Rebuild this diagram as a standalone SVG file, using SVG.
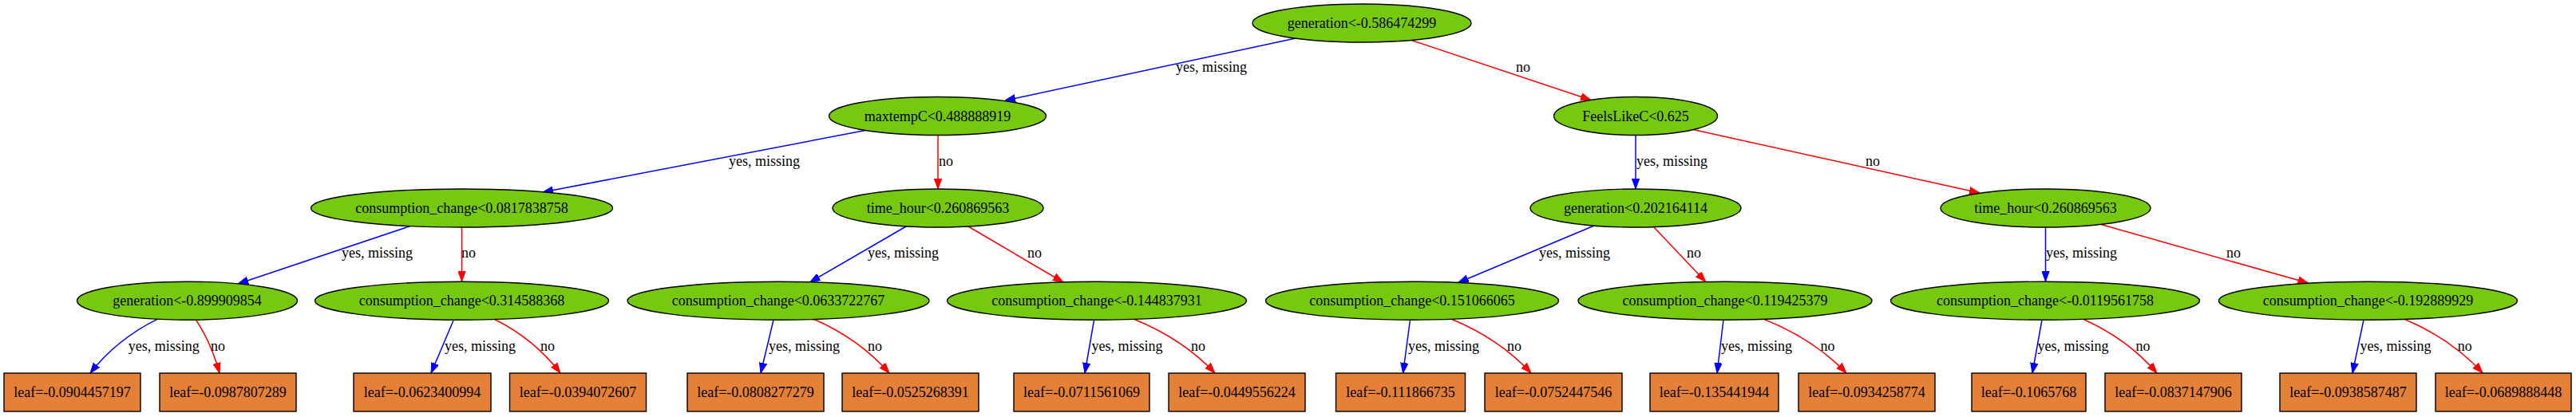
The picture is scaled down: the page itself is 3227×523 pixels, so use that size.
<svg xmlns="http://www.w3.org/2000/svg" width="3227" height="523" viewBox="0 0 3227 523">
<style>
.cond ellipse{fill:#77c90f;stroke:#000;stroke-width:1.4}
.leaf rect{fill:#e48038;stroke:#000;stroke-width:1.4}
text{font-family:"Liberation Serif","Times New Roman",serif;font-size:18px;fill:#000}
.cond text,.leaf text{text-anchor:middle}
.y{fill:none;stroke:#0000ff;stroke-width:1.5;marker-end:url(#ab)}
.n{fill:none;stroke:#ff0000;stroke-width:1.5;marker-end:url(#ar)}
</style>
<defs>
<marker id="ab" viewBox="0 0 13 10" refX="13" refY="5" markerWidth="13" markerHeight="10" markerUnits="userSpaceOnUse" orient="auto"><path d="M0,0.3 L13,5 L0,9.7 z" fill="#0000ff" stroke="#0000ff" stroke-width="1"/></marker>
<marker id="ar" viewBox="0 0 13 10" refX="13" refY="5" markerWidth="13" markerHeight="10" markerUnits="userSpaceOnUse" orient="auto"><path d="M0,0.3 L13,5 L0,9.7 z" fill="#ff0000" stroke="#ff0000" stroke-width="1"/></marker>
</defs>
<rect width="3227" height="523" fill="#fff"/>
<g id="edges">
<path class="y" d="M1623,48 L1259,126"/>
<path class="n" d="M1768,50.5 L1993,125.5"/>
<path class="y" d="M1084,163.5 L680,241"/>
<path class="n" d="M1175,169.5 L1175,237"/>
<path class="y" d="M2049,169.5 L2049,237"/>
<path class="n" d="M2121,162.5 L2480,242"/>
<path class="y" d="M514,283.5 L298,356"/>
<path class="n" d="M578.5,285 L578.5,353"/>
<path class="y" d="M1135,284 L1014.5,354"/>
<path class="n" d="M1213,284 L1332,354"/>
<path class="y" d="M1997,283 L1826.7,354.5"/>
<path class="n" d="M2071.5,284.5 L2136.8,353.5"/>
<path class="y" d="M2562.5,285 L2562.5,353"/>
<path class="n" d="M2632,281.5 L2891.5,355"/>
<path class="y" d="M197,400.3 C163.4,417 134,441 113,468"/>
<path class="n" d="M245,400.5 C257,418 267.5,441 275,468"/>
<path class="y" d="M568.4,401 L540,468"/>
<path class="n" d="M619.7,400.5 C652.6,417 681.4,441 702,468"/>
<path class="y" d="M969,401 L953,468"/>
<path class="n" d="M1020,400.5 C1057.6,417 1090.5,441 1114,468"/>
<path class="y" d="M1370.6,401 L1359,468"/>
<path class="n" d="M1421,400.5 C1461.4,417 1496.75,441 1522,468"/>
<path class="y" d="M1766.5,401 L1757.6,468"/>
<path class="n" d="M1819,400.5 C1858.6,417 1893.25,441 1918,468"/>
<path class="y" d="M2159,401 L2151,468"/>
<path class="n" d="M2210,400.5 C2251.2,417 2287.25,441 2313,468"/>
<path class="y" d="M2558,401 L2546,468"/>
<path class="n" d="M2610,400.5 C2646.8,417 2679,441 2702,468"/>
<path class="y" d="M2961,401 L2947,468"/>
<path class="n" d="M3012.6,400.5 C3051.5,417 3085.6,441 3110,468"/>
<text x="1473" y="90">yes, missing</text>
<text x="1899" y="90">no</text>
<text x="913" y="208">yes, missing</text>
<text x="1176" y="208">no</text>
<text x="2050" y="208">yes, missing</text>
<text x="2337" y="208">no</text>
<text x="428" y="323">yes, missing</text>
<text x="578" y="323">no</text>
<text x="1087" y="323">yes, missing</text>
<text x="1287" y="323">no</text>
<text x="1928" y="323">yes, missing</text>
<text x="2113" y="323">no</text>
<text x="2563" y="323">yes, missing</text>
<text x="2789" y="323">no</text>
<text x="160.7" y="440">yes, missing</text>
<text x="264" y="440">no</text>
<text x="557" y="440">yes, missing</text>
<text x="677" y="440">no</text>
<text x="963" y="440">yes, missing</text>
<text x="1087" y="440">no</text>
<text x="1367.5" y="440">yes, missing</text>
<text x="1492" y="440">no</text>
<text x="1764" y="440">yes, missing</text>
<text x="1888" y="440">no</text>
<text x="2156" y="440">yes, missing</text>
<text x="2280.6" y="440">no</text>
<text x="2552.5" y="440">yes, missing</text>
<text x="2675.5" y="440">no</text>
<text x="2956.6" y="440">yes, missing</text>
<text x="3078.8" y="440">no</text>
</g>
<g id="n0" class="cond"><ellipse cx="1706" cy="29" rx="137" ry="24"/><text x="1706" y="35">generation&lt;-0.586474299</text></g>
<g id="n1" class="cond"><ellipse cx="1174.5" cy="145.5" rx="136" ry="24"/><text x="1174.5" y="151.5">maxtempC&lt;0.488888919</text></g>
<g id="n2" class="cond"><ellipse cx="2049" cy="145.5" rx="102.5" ry="24"/><text x="2049" y="151.5">FeelsLikeC&lt;0.625</text></g>
<g id="n3" class="cond"><ellipse cx="578.5" cy="261" rx="189" ry="24"/><text x="578.5" y="267">consumption_change&lt;0.0817838758</text></g>
<g id="n4" class="cond"><ellipse cx="1175" cy="261" rx="132" ry="24"/><text x="1175" y="267">time_hour&lt;0.260869563</text></g>
<g id="n5" class="cond"><ellipse cx="2049" cy="261" rx="132" ry="24"/><text x="2049" y="267">generation&lt;0.202164114</text></g>
<g id="n6" class="cond"><ellipse cx="2562.5" cy="261" rx="131.5" ry="24"/><text x="2562.5" y="267">time_hour&lt;0.260869563</text></g>
<g id="n7" class="cond"><ellipse cx="234.5" cy="377.2" rx="138" ry="24"/><text x="234.5" y="383.2">generation&lt;-0.899909854</text></g>
<g id="n8" class="cond"><ellipse cx="578.5" cy="377.2" rx="184" ry="24"/><text x="578.5" y="383.2">consumption_change&lt;0.314588368</text></g>
<g id="n9" class="cond"><ellipse cx="975" cy="377.2" rx="189" ry="24"/><text x="975" y="383.2">consumption_change&lt;0.0633722767</text></g>
<g id="n10" class="cond"><ellipse cx="1374" cy="377.2" rx="187.5" ry="24"/><text x="1374" y="383.2">consumption_change&lt;-0.144837931</text></g>
<g id="n11" class="cond"><ellipse cx="1769" cy="377.2" rx="183.5" ry="24"/><text x="1769" y="383.2">consumption_change&lt;0.151066065</text></g>
<g id="n12" class="cond"><ellipse cx="2161" cy="377.2" rx="184" ry="24"/><text x="2161" y="383.2">consumption_change&lt;0.119425379</text></g>
<g id="n13" class="cond"><ellipse cx="2562" cy="377.2" rx="193.5" ry="24"/><text x="2562" y="383.2">consumption_change&lt;-0.0119561758</text></g>
<g id="n14" class="cond"><ellipse cx="2966.5" cy="377.2" rx="187" ry="24"/><text x="2966.5" y="383.2">consumption_change&lt;-0.192889929</text></g>
<g id="l1" class="leaf"><rect x="5" y="468" width="171" height="48"/><text x="90.5" y="498">leaf=-0.0904457197</text></g>
<g id="l2" class="leaf"><rect x="200" y="468" width="171" height="48"/><text x="285.5" y="498">leaf=-0.0987807289</text></g>
<g id="l3" class="leaf"><rect x="443" y="468" width="172" height="48"/><text x="529" y="498">leaf=-0.0623400994</text></g>
<g id="l4" class="leaf"><rect x="638.5" y="468" width="171" height="48"/><text x="724" y="498">leaf=-0.0394072607</text></g>
<g id="l5" class="leaf"><rect x="861" y="468" width="171" height="48"/><text x="946.5" y="498">leaf=-0.0808277279</text></g>
<g id="l6" class="leaf"><rect x="1055" y="468" width="171" height="48"/><text x="1140.5" y="498">leaf=-0.0525268391</text></g>
<g id="l7" class="leaf"><rect x="1270" y="468" width="170" height="48"/><text x="1355" y="498">leaf=-0.0711561069</text></g>
<g id="l8" class="leaf"><rect x="1464" y="468" width="171" height="48"/><text x="1549.5" y="498">leaf=-0.0449556224</text></g>
<g id="l9" class="leaf"><rect x="1673.5" y="468" width="162" height="48"/><text x="1754.5" y="498">leaf=-0.111866735</text></g>
<g id="l10" class="leaf"><rect x="1860" y="468" width="172" height="48"/><text x="1946" y="498">leaf=-0.0752447546</text></g>
<g id="l11" class="leaf"><rect x="2067" y="468" width="161" height="48"/><text x="2147.5" y="498">leaf=-0.135441944</text></g>
<g id="l12" class="leaf"><rect x="2253" y="468" width="171" height="48"/><text x="2338.5" y="498">leaf=-0.0934258774</text></g>
<g id="l13" class="leaf"><rect x="2470" y="468" width="143" height="48"/><text x="2541.5" y="498">leaf=-0.1065768</text></g>
<g id="l14" class="leaf"><rect x="2637" y="468" width="171" height="48"/><text x="2722.5" y="498">leaf=-0.0837147906</text></g>
<g id="l15" class="leaf"><rect x="2856" y="468" width="171" height="48"/><text x="2941.5" y="498">leaf=-0.0938587487</text></g>
<g id="l16" class="leaf"><rect x="3051" y="468" width="170" height="48"/><text x="3136" y="498">leaf=-0.0689888448</text></g>
</svg>
